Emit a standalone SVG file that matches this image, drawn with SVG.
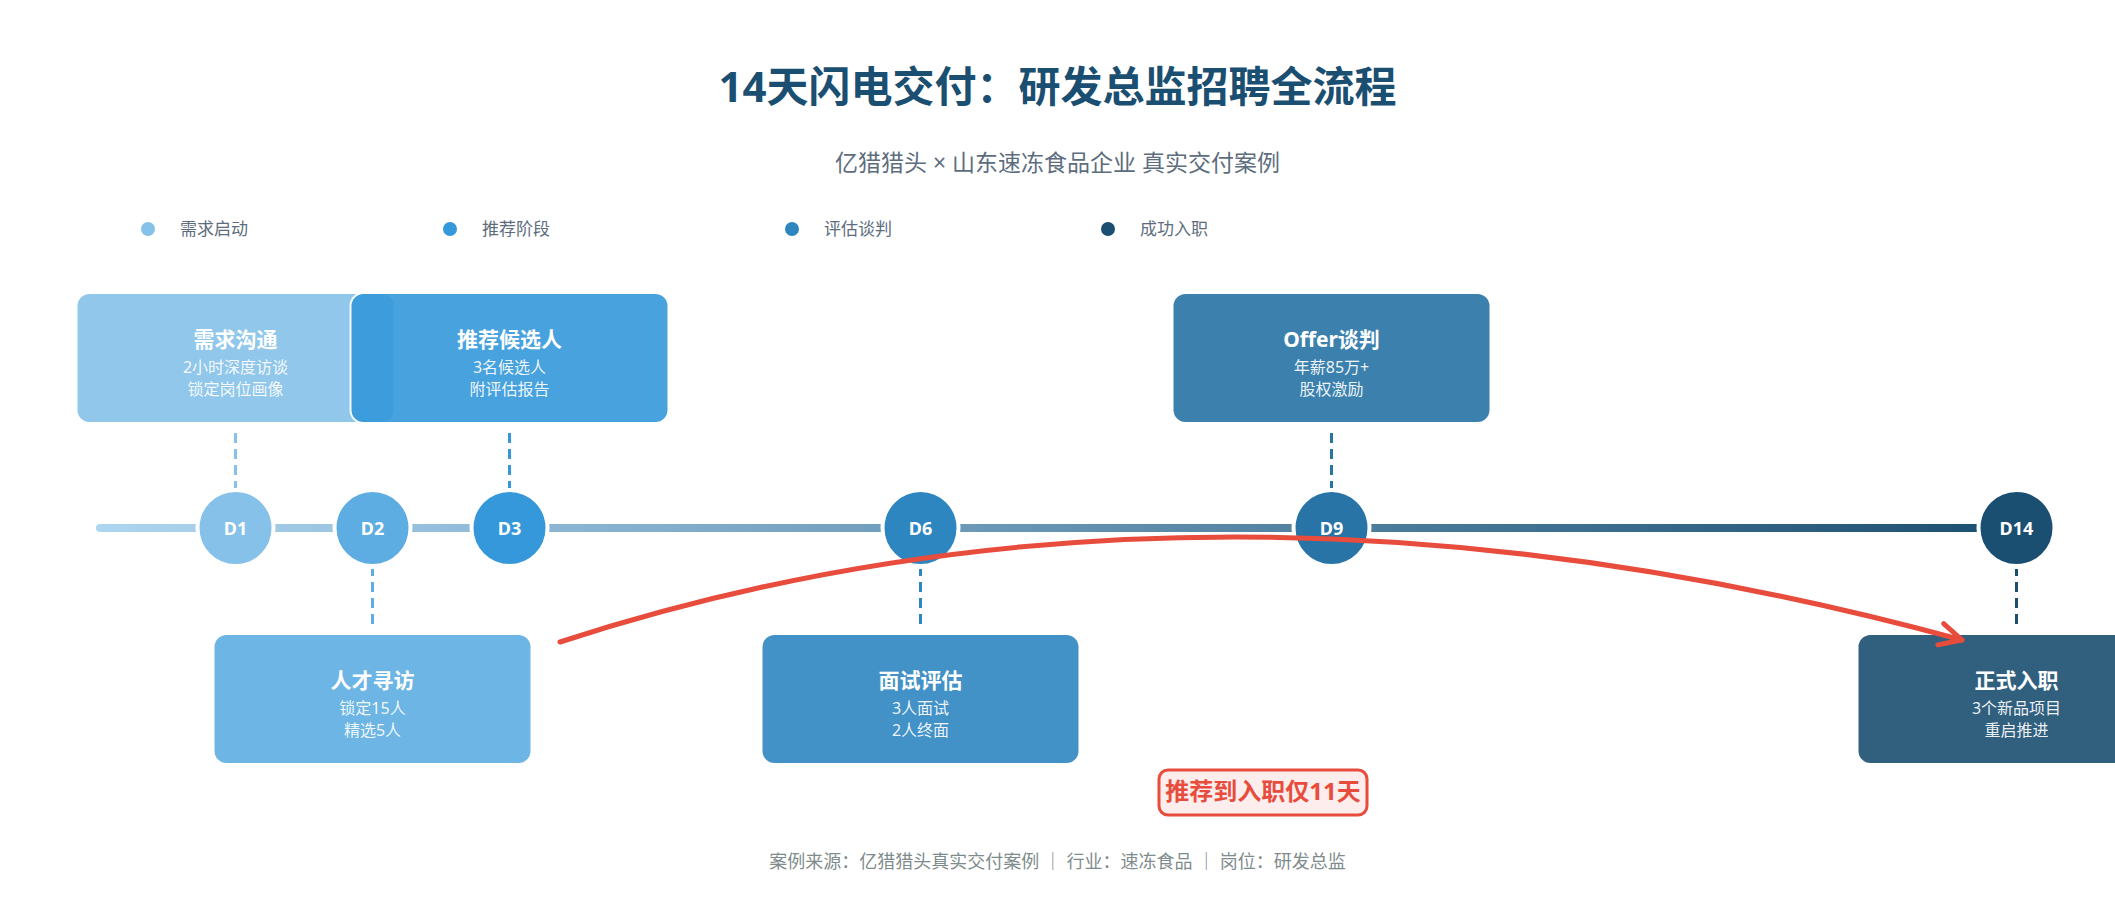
<svg xmlns="http://www.w3.org/2000/svg" width="2115" height="915" viewBox="0 0 2115 915">
<defs>
<linearGradient id="tl" gradientUnits="userSpaceOnUse" x1="96" y1="0" x2="2017" y2="0">
<stop offset="0" stop-color="#AED6F1"/>
<stop offset="1" stop-color="#1B4F72"/>
</linearGradient>
<marker id="arr" viewBox="0 0 30 30" refX="26" refY="15" markerWidth="30" markerHeight="30" markerUnits="userSpaceOnUse" orient="auto">
<path d="M4,4 L26,15 L4,26" fill="none" stroke="#E74C3C" stroke-width="5" stroke-linecap="round" stroke-linejoin="round"/>
</marker>
<style>
text{font-family:"Noto Sans","Noto Sans CJK SC",sans-serif}
.title{font-size:42px;font-weight:700;fill:#1B4F72;text-anchor:middle}
.sub{font-size:23px;fill:#5D6D7E;text-anchor:middle}
.leg{font-size:17px;fill:#5D6D7E}
.box{stroke:#fff;stroke-width:2;opacity:0.9}
.bt{font-size:21px;font-weight:700;fill:#fff;text-anchor:middle}
.bl{font-size:16px;fill:#fff;fill-opacity:0.92;text-anchor:middle}
.dot{stroke:#fff;stroke-width:4}
.dl{font-size:18px;font-weight:700;fill:#fff;text-anchor:middle}
.conn{stroke-width:3;stroke-dasharray:10 6;fill:none}
.foot{font-size:18px;fill:#7F8C8D;text-anchor:middle}
</style>
</defs>
<rect width="2115" height="915" fill="#fff"/>
<text class="title" x="1057.5" y="102">14天闪电交付：研发总监招聘全流程</text>
<text class="sub" x="1057.5" y="171">亿猎猎头 × 山东速冻食品企业 真实交付案例</text>
<g id="legend">
<circle cx="148" cy="229" r="7" fill="#85C1E9"/><text class="leg" x="180" y="235">需求启动</text>
<circle cx="450" cy="229" r="7" fill="#3498DB"/><text class="leg" x="482" y="235">推荐阶段</text>
<circle cx="792" cy="229" r="7" fill="#2E86C1"/><text class="leg" x="824" y="235">评估谈判</text>
<circle cx="1108" cy="229" r="7" fill="#1B4F72"/><text class="leg" x="1140" y="235">成功入职</text>
</g>
<g id="timeline">
<line x1="100" y1="528" x2="2017" y2="528" stroke="url(#tl)" stroke-width="8" stroke-linecap="round"/>
</g>
<g id="connectors">
<line class="conn" x1="235.5" y1="433" x2="235.5" y2="488" stroke="#85C1E9"/>
<line class="conn" x1="509.5" y1="433" x2="509.5" y2="488" stroke="#3498DB"/>
<line class="conn" x1="1331.5" y1="433" x2="1331.5" y2="488" stroke="#2874A6"/>
<line class="conn" x1="372.5" y1="624" x2="372.5" y2="569" stroke="#5DADE2"/>
<line class="conn" x1="920.5" y1="624" x2="920.5" y2="569" stroke="#2E86C1"/>
<line class="conn" x1="2016.5" y1="624" x2="2016.5" y2="569" stroke="#1B4F72"/>
</g>
<g id="node-d1">
<rect class="box" x="76.5" y="293" width="318" height="130" rx="13" fill="#85C1E9"/>
<text class="bt" x="235.5" y="347">需求沟通</text>
<text class="bl" x="235.5" y="373">2小时深度访谈</text>
<text class="bl" x="235.5" y="395">锁定岗位画像</text>
<circle class="dot" cx="235.5" cy="528" r="38" fill="#85C1E9"/>
<text class="dl" x="235.5" y="534.5">D1</text>
</g>
<g id="node-d3">
<rect class="box" x="350.5" y="293" width="318" height="130" rx="13" fill="#3498DB"/>
<text class="bt" x="509.5" y="347">推荐候选人</text>
<text class="bl" x="509.5" y="373">3名候选人</text>
<text class="bl" x="509.5" y="395">附评估报告</text>
<circle class="dot" cx="509.5" cy="528" r="38" fill="#3498DB"/>
<text class="dl" x="509.5" y="534.5">D3</text>
</g>
<g id="node-d2">
<rect class="box" x="213.5" y="634" width="318" height="130" rx="13" fill="#5DADE2"/>
<text class="bt" x="372.5" y="688">人才寻访</text>
<text class="bl" x="372.5" y="714">锁定15人</text>
<text class="bl" x="372.5" y="736">精选5人</text>
<circle class="dot" cx="372.5" cy="528" r="38" fill="#5DADE2"/>
<text class="dl" x="372.5" y="534.5">D2</text>
</g>
<g id="node-d6">
<rect class="box" x="761.5" y="634" width="318" height="130" rx="13" fill="#2E86C1"/>
<text class="bt" x="920.5" y="688">面试评估</text>
<text class="bl" x="920.5" y="714">3人面试</text>
<text class="bl" x="920.5" y="736">2人终面</text>
<circle class="dot" cx="920.5" cy="528" r="38" fill="#2E86C1"/>
<text class="dl" x="920.5" y="534.5">D6</text>
</g>
<g id="node-d9">
<rect class="box" x="1172.5" y="293" width="318" height="130" rx="13" fill="#2874A6"/>
<text class="bt" x="1331.5" y="347">Offer谈判</text>
<text class="bl" x="1331.5" y="373">年薪85万+</text>
<text class="bl" x="1331.5" y="395">股权激励</text>
<circle class="dot" cx="1331.5" cy="528" r="38" fill="#2874A6"/>
<text class="dl" x="1331.5" y="534.5">D9</text>
</g>
<g id="node-d14">
<rect class="box" x="1857.5" y="634" width="318" height="130" rx="13" fill="#1B4F72"/>
<text class="bt" x="2016.5" y="688">正式入职</text>
<text class="bl" x="2016.5" y="714">3个新品项目</text>
<text class="bl" x="2016.5" y="736">重启推进</text>
<circle class="dot" cx="2016.5" cy="528" r="38" fill="#1B4F72"/>
<text class="dl" x="2016.5" y="534.5">D14</text>
</g>
<g id="highlight">
<path d="M560,642 Q1201,433 1962,640" fill="none" stroke="#E74C3C" stroke-width="5" stroke-linecap="round" marker-end="url(#arr)"/>
</g>
<g id="badge">
<rect x="1159" y="770" width="208" height="45" rx="9" fill="#FDEDEC" stroke="#E74C3C" stroke-width="3"/>
<text x="1263" y="800" font-size="24" font-weight="700" fill="#E74C3C" text-anchor="middle">推荐到入职仅11天</text>
</g>
<text class="foot" x="1057.5" y="868">案例来源：亿猎猎头真实交付案例 ｜ 行业：速冻食品 ｜ 岗位：研发总监</text>
</svg>
